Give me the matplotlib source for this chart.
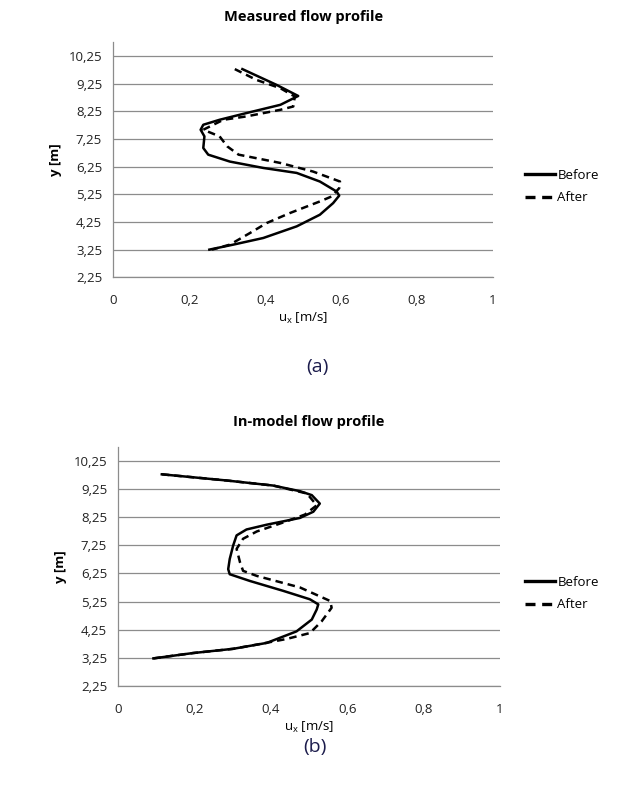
import matplotlib

matplotlib.use("Agg")

import matplotlib.pyplot as plt
from matplotlib.lines import Line2D

# (a) measured profile
meas_before_ux = [0.34, 0.43, 0.487, 0.44, 0.35, 0.28, 0.237, 0.23, 0.24, 0.237, 0.25, 0.307,
                  0.395, 0.483, 0.544, 0.588, 0.595, 0.579, 0.544, 0.483, 0.395, 0.316, 0.253]
meas_before_y = [9.77, 9.2, 8.8, 8.48, 8.18, 7.94, 7.76, 7.58, 7.34, 6.92, 6.68, 6.43,
                 6.2, 6.02, 5.71, 5.35, 5.2, 4.93, 4.51, 4.09, 3.67, 3.43, 3.25]
meas_after_ux = [0.32, 0.377, 0.44, 0.478, 0.474, 0.44, 0.35, 0.29, 0.237, 0.28, 0.30, 0.33,
                 0.44, 0.526, 0.597, 0.595, 0.575, 0.544, 0.465, 0.404, 0.36, 0.307, 0.26]
meas_after_y = [9.77, 9.38, 9.08, 8.78, 8.42, 8.3, 8.06, 7.94, 7.58, 7.34, 6.98, 6.68,
                6.38, 6.07, 5.71, 5.47, 5.17, 4.99, 4.57, 4.21, 3.85, 3.43, 3.25]

# (b) in-model profile
model_before_ux = [0.114, 0.284, 0.406, 0.476, 0.507, 0.528, 0.511, 0.476, 0.389, 0.336, 0.31,
                   0.301, 0.292, 0.288, 0.292, 0.345, 0.432, 0.502, 0.524, 0.52, 0.507, 0.467,
                   0.389, 0.301, 0.196, 0.092]
model_before_y = [9.77, 9.55, 9.37, 9.17, 9.03, 8.73, 8.44, 8.22, 7.98, 7.81, 7.6,
                  7.24, 6.76, 6.4, 6.22, 5.98, 5.63, 5.33, 5.15, 4.97, 4.61, 4.19,
                  3.78, 3.57, 3.42, 3.23]
model_after_ux = [0.114, 0.284, 0.406, 0.494, 0.52, 0.489, 0.441, 0.363, 0.327, 0.31, 0.319,
                  0.327, 0.363, 0.476, 0.555, 0.559, 0.533, 0.502, 0.441, 0.363, 0.301,
                  0.196, 0.092]
model_after_y = [9.77, 9.55, 9.37, 9.09, 8.67, 8.34, 8.1, 7.74, 7.48, 7.12, 6.64,
                 6.34, 6.16, 5.75, 5.27, 5.03, 4.55, 4.13, 3.92, 3.72, 3.57,
                 3.42, 3.23]

x_ticks = [0, 0.2, 0.4, 0.6, 0.8, 1]
y_ticks = [2.25, 3.25, 4.25, 5.25, 6.25, 7.25, 8.25, 9.25, 10.25]

plt.rcParams.update({"font.family": ["Open Sans", "DejaVu Sans"], "font.size": 9.5})

GRID = "#8c8c8c"
DASH = (0, (3.0, 2.0))


def _panel(ax, before, after, title):
    ax.plot(*before, color="black", lw=1.8, solid_joinstyle="round", zorder=3)
    ax.plot(*after, color="black", lw=1.8, linestyle=DASH, zorder=4)
    ax.set_xlim(0, 1)
    ax.set_ylim(2.25, 10.75)
    ax.set_xticks(x_ticks)
    ax.set_xticklabels([f"{v:g}".replace(".", ",") for v in x_ticks])
    ax.set_yticks(y_ticks)
    ax.set_yticklabels([f"{v:.2f}".replace(".", ",") for v in y_ticks])
    ax.tick_params(length=0, pad=8, colors="#222222")
    ax.tick_params(axis="x", pad=12)
    ax.grid(axis="y", color=GRID, lw=0.9)
    ax.set_axisbelow(True)
    for side in ["top", "right"]:
        ax.spines[side].set_visible(False)
    for side in ["left", "bottom"]:
        ax.spines[side].set_color(GRID)
        ax.spines[side].set_linewidth(0.9)
    ax.set_xlabel(r"u$_\mathregular{x}$ [m/s]", labelpad=3)
    ax.set_ylabel("y [m]", fontweight="bold", labelpad=5)
    ax.set_title(title, fontweight="bold", fontsize=10.5, pad=15)


fig = plt.figure(figsize=(6.39, 8.01), dpi=100)
ax1 = fig.add_axes([0.1773, 0.6538, 0.5942, 0.2938])
ax2 = fig.add_axes([0.1851, 0.1436, 0.5973, 0.2987])

_panel(ax1, (meas_before_ux, meas_before_y), (meas_after_ux, meas_after_y),
       "Measured flow profile")
_panel(ax2, (model_before_ux, model_before_y), (model_after_ux, model_after_y),
       "In-model flow profile")

handles = [Line2D([], [], color="black", lw=2.4),
           Line2D([], [], color="black", lw=2.4, linestyle=DASH)]
for ax, ypos in [(ax1, 0.767), (ax2, 0.259)]:
    fig.legend(handles, ["Before", "After"], loc="center left",
               bbox_to_anchor=(0.803, ypos), frameon=False, handlelength=2.3,
               handletextpad=0.15, labelspacing=0.7, fontsize=9.5)

fig.text(0.497, 0.542, "(a)", ha="center", va="center", fontsize=14, color="#1c1c4c")
fig.text(0.493, 0.068, "(b)", ha="center", va="center", fontsize=14, color="#1c1c4c")

fig.savefig("out.png", dpi=100, facecolor="white")
